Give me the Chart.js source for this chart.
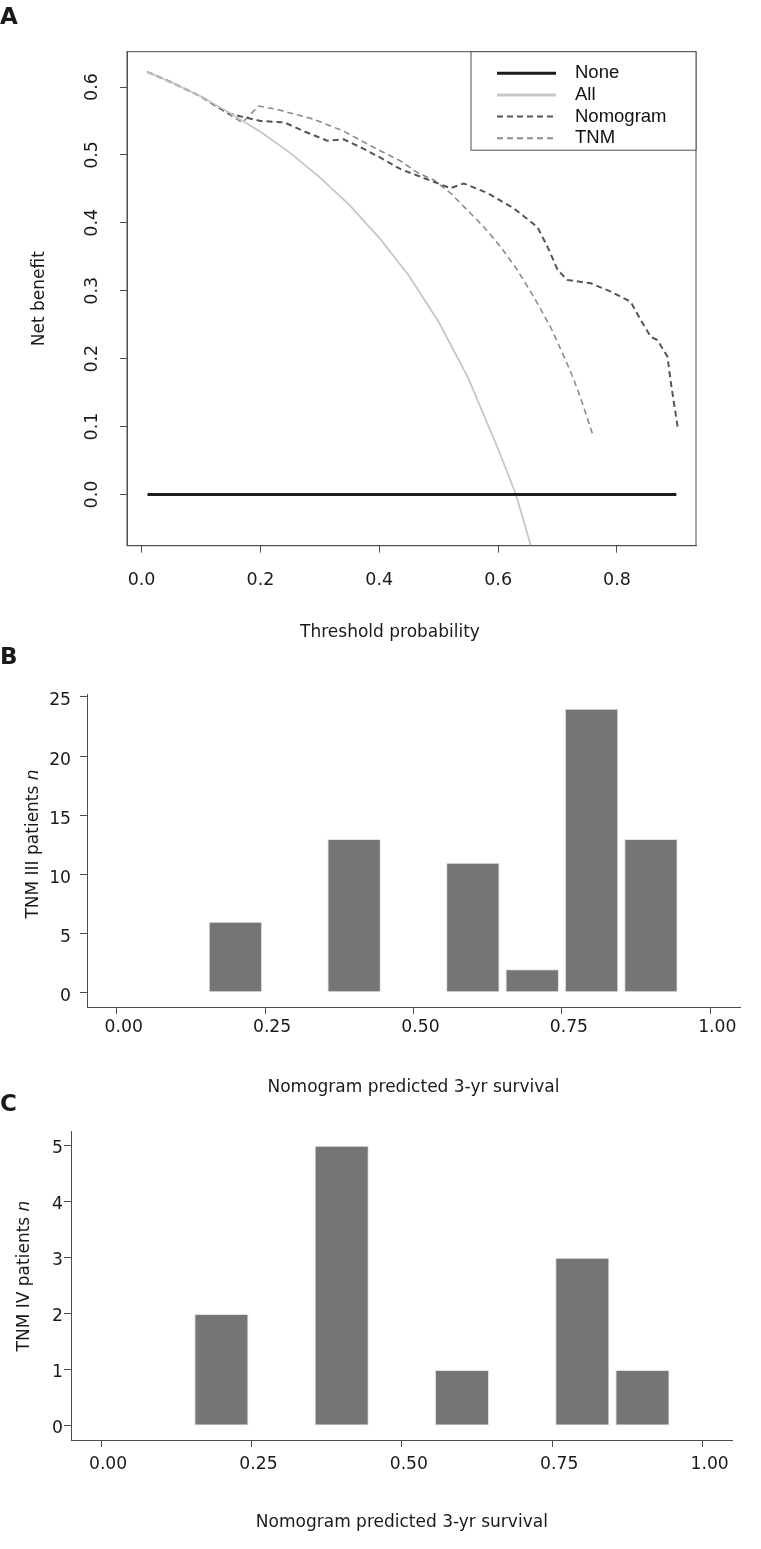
<!DOCTYPE html>
<html>
<head>
<meta charset="utf-8">
<title>Decision curve and nomogram histograms</title>
<script src="https://cdn.jsdelivr.net/npm/chart.js@4/dist/chart.umd.min.js"></script>
<style>
  body { margin: 0; background: #fff; width: 761px; height: 1549px; position: relative; overflow: hidden;
         font-family: "DejaVu Sans", sans-serif; color: #1a1a1a; }
  .panel { position: absolute; left: 0; width: 761px; }
  .tag { position: absolute; left: 0; font: bold 23px/1 "DejaVu Sans", sans-serif; }
  .xtitle { position: absolute; width: 300px; text-align: center; font-size: 17px; line-height: 20px; }
  .ytitle { position: absolute; width: 300px; text-align: center; font-size: 17px; line-height: 20px; transform: rotate(-90deg); }
</style>
</head>
<body>
<div class="panel" style="top:0;height:645px"><canvas id="chartA"></canvas></div>
<div class="panel" style="top:640px;height:460px"><canvas id="chartB"></canvas></div>
<div class="panel" style="top:1095px;height:454px"><canvas id="chartC"></canvas></div>

<div class="tag" style="top:4.6px">A</div>
<div class="tag" style="top:645px">B</div>
<div class="tag" style="top:1092px">C</div>
<div class="xtitle" style="left:240px;top:621px">Threshold probability</div>
<div class="ytitle" style="left:-118px;top:834px">TNM III patients <i>n</i></div>
<div class="ytitle" style="left:-127px;top:1266px">TNM IV patients <i>n</i></div>

<script>
// ---- panel A: decision curves (threshold probability -> net benefit)
var noneX = [0.01, 0.90];
var noneY = [0, 0];

var allX = [0.01, 0.05, 0.10, 0.15, 0.20, 0.25, 0.30, 0.35, 0.40, 0.45, 0.50, 0.55, 0.60, 0.63, 0.66];
var allY = [0.622, 0.607, 0.586, 0.561, 0.534, 0.503, 0.467, 0.426, 0.378, 0.322, 0.254, 0.171, 0.067, 0.0, -0.09];

var nomoX = [0.01, 0.05, 0.10, 0.144, 0.166, 0.20, 0.24, 0.273, 0.3125, 0.34, 0.369, 0.402, 0.436, 0.469,
             0.52, 0.542, 0.582, 0.626, 0.666, 0.683, 0.70, 0.716, 0.756, 0.789, 0.823, 0.84, 0.857, 0.868,
             0.885, 0.89, 0.896, 0.902];
var nomoY = [0.622, 0.607, 0.586, 0.562, 0.557, 0.55, 0.548, 0.535, 0.521, 0.523, 0.511, 0.496, 0.479, 0.468,
             0.451, 0.458, 0.444, 0.4215, 0.394, 0.365, 0.331, 0.316, 0.311, 0.299, 0.284, 0.257, 0.232, 0.2275,
             0.203, 0.169, 0.134, 0.10];

var tnmX = [0.01, 0.05, 0.10, 0.15, 0.17, 0.197, 0.228, 0.29, 0.34, 0.391, 0.436, 0.464, 0.492, 0.52, 0.548,
            0.576, 0.604, 0.632, 0.66, 0.688, 0.711, 0.7275, 0.742, 0.7585];
var tnmY = [0.622, 0.607, 0.586, 0.558, 0.548, 0.572, 0.567, 0.5525, 0.535, 0.511, 0.491, 0.474, 0.463, 0.4436,
            0.419, 0.394, 0.365, 0.331, 0.291, 0.247, 0.203, 0.169, 0.134, 0.09];

var aXTicks = [0, 0.2, 0.4, 0.6, 0.8];
var aYTicks = [0, 0.1, 0.2, 0.3, 0.4, 0.5, 0.6];

// ---- panels B and C: histograms of nomogram predicted 3-yr survival
var histXTicks = [0, 0.25, 0.5, 0.75, 1];

var bMids = [0.2, 0.4, 0.6, 0.7, 0.8, 0.9];
var bCounts = [6, 13, 11, 2, 24, 13];
var bYTicks = [0, 5, 10, 15, 20, 25];

var cMids = [0.2, 0.4, 0.6, 0.8, 0.9];
var cCounts = [2, 5, 1, 3, 1];
var cYTicks = [0, 1, 2, 3, 4, 5];

var axisGray = '#4d4d4d';

Chart.defaults.font.family = '"DejaVu Sans", sans-serif';
Chart.defaults.color = '#1a1a1a';
Chart.defaults.animation = false;
Chart.defaults.plugins.legend.display = false;
Chart.defaults.plugins.tooltip.enabled = false;

var toPoints = (xs, ys) => xs.map((x, i) => ({x: x, y: ys[i]}));
var fixTicks = (vals) => (scale) => { scale.ticks = vals.map(v => ({value: v})); };
var tickGrid = () => ({drawOnChartArea: false, drawTicks: true, tickLength: 7, color: axisGray, offset: false});

// full box round the plot area of panel A
var frameBox = {
  id: 'frameBox',
  afterDatasetsDraw(chart) {
    var ctx = chart.ctx, a = chart.chartArea;
    ctx.save();
    ctx.strokeStyle = axisGray;
    ctx.lineWidth = 1;
    ctx.strokeRect(a.left, a.top, a.right - a.left, a.bottom - a.top);
    ctx.restore();
  }
};

// R style legend box in the top right corner
var boxLegend = {
  id: 'boxLegend',
  afterDraw(chart) {
    var ctx = chart.ctx, a = chart.chartArea;
    var w = 225, h = 98.5;
    var x0 = a.right - w, y0 = a.top;
    ctx.save();
    ctx.fillStyle = '#fff';
    ctx.fillRect(x0, y0, w, h);
    ctx.strokeStyle = axisGray;
    ctx.lineWidth = 1;
    ctx.strokeRect(x0, y0, w, h);
    chart.data.datasets.forEach((ds, i) => {
      var y = y0 + 21.5 + i * 21.7;
      ctx.beginPath();
      ctx.setLineDash(ds.borderDash || []);
      ctx.strokeStyle = ds.borderColor;
      ctx.lineWidth = ds.label == 'None' || ds.label == 'All' ? 3 : 2;
      ctx.moveTo(x0 + 26, y);
      ctx.lineTo(x0 + 85, y);
      ctx.stroke();
      ctx.setLineDash([]);
      ctx.fillStyle = '#111';
      ctx.font = '18.5px "Liberation Sans", Arial, sans-serif';
      ctx.textBaseline = 'middle';
      ctx.fillText(ds.label, x0 + 104, y);
    });
    ctx.restore();
  }
};

new Chart(document.getElementById('chartA'), {
  type: 'line',
  data: {
    datasets: [
      {label: 'None', data: toPoints(noneX, noneY), borderColor: '#1c1c1c', borderWidth: 3},
      {label: 'All', data: toPoints(allX, allY), borderColor: '#c6c6c6', borderWidth: 1.8},
      {label: 'Nomogram', data: toPoints(nomoX, nomoY), borderColor: '#555555', borderWidth: 2, borderDash: [6, 4]},
      {label: 'TNM', data: toPoints(tnmX, tnmY), borderColor: '#8c8c8c', borderWidth: 1.6, borderDash: [6, 4]}
    ]
  },
  options: {
    responsive: true,
    maintainAspectRatio: false,
    layout: {padding: {top: 51.7, right: 65, left: 0, bottom: 0}},
    elements: {point: {radius: 0}, line: {tension: 0}},
    scales: {
      x: {
        type: 'linear', min: -0.0245, max: 0.933,
        afterBuildTicks: fixTicks(aXTicks),
        afterFit: (s) => { s.height = 99.3; },
        grid: tickGrid(), border: {color: axisGray},
        ticks: {font: {size: 17.5}, padding: 17.5, autoSkip: false, maxRotation: 0, callback: v => v.toFixed(1)}
      },
      y: {
        type: 'linear', min: -0.0754, max: 0.652,
        afterBuildTicks: fixTicks(aYTicks),
        afterFit: (s) => { s.width = 127; },
        grid: tickGrid(), border: {color: axisGray},
        ticks: {font: {size: 17.5}, minRotation: 90, maxRotation: 90, crossAlign: 'center', padding: 14,
                callback: v => v.toFixed(1)},
        title: {display: true, text: 'Net benefit', font: {size: 17}, padding: {top: 29.8, bottom: 0}}
      }
    }
  },
  plugins: [frameBox, boxLegend]
});

function histConfig(mids, counts, yTicks, yMin, yMax, box) {
  return {
    type: 'bar',
    data: {
      datasets: [{
        data: toPoints(mids, counts),
        backgroundColor: '#757575',
        borderColor: '#e2e2e2',
        borderWidth: 1,
        borderSkipped: false,
        barPercentage: 0.9,
        categoryPercentage: 1
      }]
    },
    options: {
      responsive: true,
      maintainAspectRatio: false,
      layout: {padding: {top: box.top, right: box.right, left: 0, bottom: 0}},
      scales: {
        x: {
          type: 'linear', offset: false, min: -0.05, max: 1.05,
          afterBuildTicks: fixTicks(histXTicks),
          afterFit: (s) => { s.height = box.xHeight; },
          grid: tickGrid(), border: {color: axisGray},
          ticks: {font: {size: 17.2}, padding: box.xPad, labelOffset: 7, autoSkip: false, maxRotation: 0,
                  callback: v => v.toFixed(2)},
          title: {display: true, text: 'Nomogram predicted 3-yr survival', font: {size: 17},
                  padding: {top: 0, bottom: box.titlePad}}
        },
        y: {
          type: 'linear', min: yMin, max: yMax,
          afterBuildTicks: fixTicks(yTicks),
          afterFit: (s) => { s.width = box.left; },
          grid: tickGrid(), border: {color: axisGray},
          ticks: {font: {size: 17.2}, padding: box.yPad, labelOffset: box.yOffset}
        }
      }
    }
  };
}

new Chart(document.getElementById('chartB'),
  histConfig(bMids, bCounts, bYTicks, -1.2, 25.25,
    {top: 54, right: 21, left: 87, xHeight: 93, xPad: 3.3, titlePad: 1.8, yPad: 9, yOffset: 4}));

new Chart(document.getElementById('chartC'),
  histConfig(cMids, cCounts, cYTicks, -0.25, 5.25,
    {top: 36.7, right: 28.3, left: 71, xHeight: 109, xPad: 6.8, titlePad: 15.8, yPad: 1, yOffset: 3}));
</script>
</body>
</html>
